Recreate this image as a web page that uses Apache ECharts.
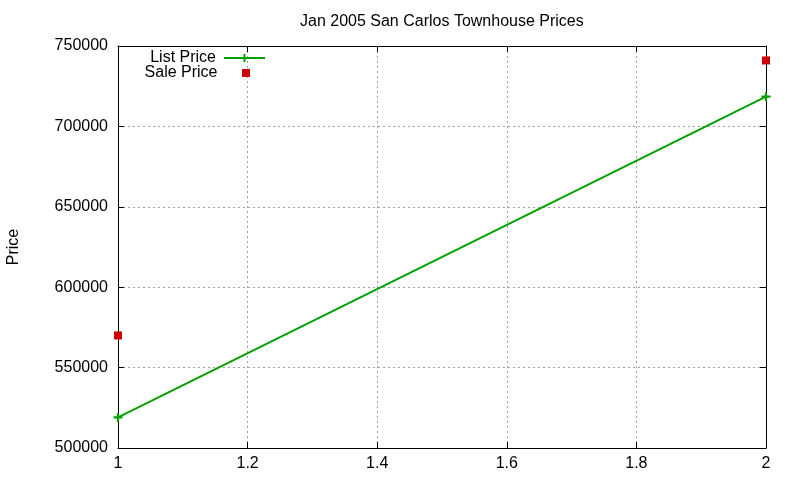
<!DOCTYPE html>
<html>
<head>
<meta charset="utf-8">
<script src="https://cdn.jsdelivr.net/npm/echarts@6/dist/echarts.min.js"></script>
<style>
  html, body { margin: 0; padding: 0; background: #fff; }
  #chart { width: 800px; height: 480px; }
</style>
</head>
<body>
<div id="chart"></div>
<script>
// data
const xValues = [1, 2];
const listPrice = [519000, 718500];
const salePrice = [570000, 741000];

const plusSymbol = 'path://M3,0H5V3H8V5H5V8H3V5H0V3H3Z';
const font = 'Liberation Sans, Arial, sans-serif';
const green = '#00a000';
const red = '#cc0000';

const chart = echarts.init(document.getElementById('chart'));

const tick = { show: true, inside: true, length: 6, lineStyle: { color: '#000' } };
const boxLine = { show: true, onZero: false, lineStyle: { color: '#000', width: 1 } };
const gridLine = { show: true, lineStyle: { color: '#a0a0a0', type: [2, 3], width: 1 } };
const labelStyle = { fontFamily: font, fontSize: 16, color: '#000' };

const legendBase = {
    orient: 'vertical',
    align: 'right',
    padding: 0,
    itemWidth: 41,
    textStyle: { fontFamily: font, fontSize: 16, color: '#000', padding: [0, 3, 0, 0] },
};

const option = {
    animation: false,
    backgroundColor: '#fff',
    title: {
        text: 'Jan 2005 San Carlos Townhouse Prices',
        left: 295,
        top: 9,
        textStyle: { fontFamily: font, fontSize: 16, fontWeight: 'normal', color: '#000' },
    },
    legend: [
        Object.assign({}, legendBase, {
            right: 534,
            top: 50,
            itemHeight: 10,
            data: ['List Price'],
        }),
        Object.assign({}, legendBase, {
            right: 550,
            top: 65,
            itemHeight: 8,
            data: [{ name: 'Sale Price', icon: 'path://M0,0H8V8H0Z' }],
        }),
    ],
    grid: { left: 118, right: 34, top: 46, bottom: 32, outerBoundsMode: 'none' },
    xAxis: [
        {
            type: 'value',
            min: 1,
            max: 2,
            interval: 0.2,
            axisLine: boxLine,
            axisTick: tick,
            axisLabel: Object.assign({ margin: 8 }, labelStyle),
            splitLine: gridLine,
        },
        {
            type: 'value',
            min: 1,
            max: 2,
            interval: 0.2,
            position: 'top',
            axisLine: boxLine,
            axisTick: tick,
            axisLabel: { show: false },
            splitLine: { show: false },
        },
    ],
    yAxis: [
        {
            type: 'value',
            min: 500000,
            max: 750000,
            interval: 50000,
            name: 'Price',
            nameLocation: 'middle',
            nameGap: 96,
            nameRotate: 90,
            nameTextStyle: labelStyle,
            axisLine: boxLine,
            axisTick: tick,
            axisLabel: Object.assign({ margin: 10, formatter: (v) => String(v) }, labelStyle),
            splitLine: gridLine,
        },
        {
            type: 'value',
            min: 500000,
            max: 750000,
            interval: 50000,
            position: 'right',
            axisLine: boxLine,
            axisTick: tick,
            axisLabel: { show: false },
            splitLine: { show: false },
        },
    ],
    series: [
        {
            name: 'List Price',
            type: 'line',
            data: xValues.map((x, i) => [x, listPrice[i]]),
            symbol: plusSymbol,
            symbolSize: 9,
            showAllSymbol: true,
            itemStyle: { color: green },
            lineStyle: { color: green, width: 2 },
        },
        {
            name: 'Sale Price',
            type: 'scatter',
            data: xValues.map((x, i) => [x, salePrice[i]]),
            symbol: 'rect',
            symbolSize: 8,
            itemStyle: { color: red, opacity: 1 },
        },
    ],
};

chart.setOption(option);
</script>
</body>
</html>
